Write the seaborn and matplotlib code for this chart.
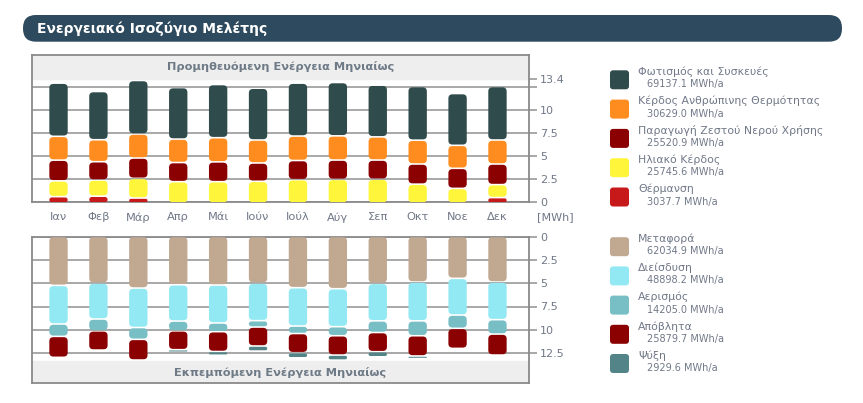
import numpy as np
import matplotlib
matplotlib.use('Agg')
import matplotlib.pyplot as plt
import seaborn as sns
from matplotlib.patches import FancyBboxPatch

sns.set_theme(style='white')
plt.rcParams['font.family'] = ['DejaVu Sans']

W, H = 863, 403

months = ['Ιαν', 'Φεβ', 'Μάρ', 'Απρ', 'Μάι', 'Ιούν', 'Ιούλ', 'Αύγ', 'Σεπ', 'Οκτ', 'Νοε', 'Δεκ']

# supplied energy (stack order bottom -> top)
heating = [0.70, 0.75, 0.55, 0, 0, 0, 0, 0, 0, 0, 0, 0.60]
solar = [1.72, 1.76, 2.14, 2.33, 2.33, 2.37, 2.55, 2.58, 2.60, 2.06, 1.60, 1.41]
hot_water = [2.25, 1.99, 2.21, 2.08, 2.15, 1.99, 2.08, 2.10, 2.08, 2.19, 2.18, 2.24]
human = [2.59, 2.39, 2.61, 2.55, 2.63, 2.50, 2.66, 2.63, 2.52, 2.59, 2.50, 2.61]
lighting = [5.78, 5.24, 5.82, 5.60, 5.78, 5.63, 5.75, 5.80, 5.62, 5.83, 5.63, 5.81]

# emitted energy (stack order top -> down, axis inverted)
transport = [5.30, 5.05, 5.59, 5.23, 5.26, 5.05, 5.55, 5.66, 5.08, 4.94, 4.54, 4.94]
infiltration = [4.18, 3.89, 4.27, 3.93, 4.11, 4.07, 4.15, 4.11, 4.06, 4.20, 3.97, 4.07]
ventilation = [1.34, 1.28, 1.28, 1.06, 0.94, 0.69, 0.81, 0.98, 1.26, 1.61, 1.44, 1.56]
waste = [2.27, 2.08, 2.24, 2.04, 2.15, 2.05, 2.08, 2.09, 2.08, 2.19, 2.17, 2.27]
cooling = [0, 0, 0, 0.2, 0.4, 0.55, 0.55, 0.55, 0.55, 0.2, 0, 0]

top_series = [heating, solar, hot_water, human, lighting]
top_colors = ['#C8191A', '#FFF53A', '#8B0000', '#FF8C1E', '#2F4B4B']
bot_series = [transport, infiltration, ventilation, waste, cooling]
bot_colors = ['#C0A891', '#93E9F3', '#78BEC5', '#8B0000', '#538588']

# legend entries (top-down as shown)
top_names = ['Φωτισμός και Συσκευές', 'Κέρδος Ανθρώπινης Θερμότητας',
             'Παραγωγή Ζεστού Νερού Χρήσης', 'Ηλιακό Κέρδος', 'Θέρμανση']
top_totals = ['69137.1 MWh/a', '30629.0 MWh/a', '25520.9 MWh/a', '25745.6 MWh/a', '3037.7 MWh/a']
top_leg_colors = ['#2F4B4B', '#FF8C1E', '#8B0000', '#FFF53A', '#C8191A']
bot_names = ['Μεταφορά', 'Διείσδυση', 'Αερισμός', 'Απόβλητα', 'Ψύξη']
bot_totals = ['62034.9 MWh/a', '48898.2 MWh/a', '14205.0 MWh/a', '25879.7 MWh/a', '2929.6 MWh/a']

TXT = '#707888'
GRID = '#9A9A9A'
FRAME = '#8A8A8A'


def px_rect(l, t, r, b):
    return [l / W, 1 - b / H, (r - l) / W, (b - t) / H]


def round_bars(ax, bars, px_x, px_y, radius=4.0, gap=1.6):
    # swap plain bars for rounded boxes, leaving a small white gap at the far end
    aspect = px_x / px_y
    for rect in bars:
        x, y = rect.get_x(), rect.get_y()
        w, h = rect.get_width(), rect.get_height()
        rect.set_visible(False)
        if h <= 0:
            continue
        g = min(gap / px_y, h * 0.45)
        hh = h - g
        r = min(radius / px_x, w / 2, hh / aspect / 2)
        ax.add_patch(FancyBboxPatch((x, y), w, hh,
                                    boxstyle=f'round,pad=0,rounding_size={r}',
                                    mutation_aspect=aspect, fc=rect.get_facecolor(),
                                    ec='none', zorder=3))


fig = plt.figure(figsize=(W / 100, H / 100), dpi=100)

# background overlay in pixel coords: title bar + legends
bg = fig.add_axes([0, 0, 1, 1])
bg.set_xlim(0, W)
bg.set_ylim(H, 0)
bg.axis('off')
bg.add_patch(FancyBboxPatch((23, 15), 819, 26.7, boxstyle='round,pad=0,rounding_size=13',
                            fc='#2E4A5E', ec='none'))
bg.text(37, 28.5, 'Ενεργειακό Ισοζύγιο Μελέτης', color='white', fontsize=10,
        fontweight='bold', va='center', ha='left')


def draw_legend(names, totals, colors, y0, step=29.3):
    for i, (n, t, c) in enumerate(zip(names, totals, colors)):
        cy = y0 + i * step
        bg.add_patch(FancyBboxPatch((610, cy - 9.5), 19, 19,
                                    boxstyle='round,pad=0,rounding_size=3', fc=c, ec='none'))
        bg.text(638, cy - 8, n, color=TXT, fontsize=7.8, va='center', ha='left')
        bg.text(647, cy + 4.5, t, color=TXT, fontsize=7.0, va='center', ha='left')


draw_legend(top_names, top_totals, top_leg_colors, 79.8)
draw_legend(bot_names, bot_totals, bot_colors, 246.7, 29.2)

x = np.arange(len(months))
bw = 0.46

# ---- top chart: supplied energy
ax1 = fig.add_axes(px_rect(31.5, 55.5, 529, 202.3))
px_x1 = (497.5 - 58.5) / 11
px_y1 = 9.2
bottom = np.zeros(len(months))
for vals, col in zip(top_series, top_colors):
    bars = ax1.bar(x, vals, bw, bottom=bottom, color=col)
    round_bars(ax1, bars, px_x1, px_y1)
    bottom += np.array(vals)
ax1.set_xlim(-0.677, 11.79)
ax1.set_ylim(0, (202.3 - 55.5) / px_y1)
ax1.axhspan(13.4, 20, color='#EEEEEE', zorder=2)
ax1.text(0.5, (13.4 + ax1.get_ylim()[1]) / 2 + 0.1, 'Προμηθευόμενη Ενέργεια Μηνιαίως',
         transform=ax1.get_yaxis_transform(), ha='center', va='center',
         fontsize=8.2, fontweight='bold', color='#6E7A86', zorder=4)
ax1.set_yticks([0, 2.5, 5, 7.5, 10, 12.5, 13.4])
ax1.set_yticklabels(['0', '2.5', '5', '7.5', '10', '', '13.4'])
ax1.set_xticks(x)
ax1.set_xticklabels(months)
ax1.tick_params(axis='x', length=0, pad=7, labelsize=8.2, labelcolor=TXT)

# ---- bottom chart: emitted energy
ax2 = fig.add_axes(px_rect(31.5, 237.2, 529, 383.3))
px_y2 = 9.24
bottom = np.zeros(len(months))
for vals, col in zip(bot_series, bot_colors):
    bars = ax2.bar(x, vals, bw, bottom=bottom, color=col)
    round_bars(ax2, bars, px_x1, px_y2)
    bottom += np.array(vals)
ax2.set_xlim(-0.677, 11.79)
ax2.set_ylim((383.3 - 237.2) / px_y2, 0)
ax2.axhspan(13.4, 20, color='#EEEEEE', zorder=2)
ax2.text(0.5, (13.4 + ax2.get_ylim()[0]) / 2, 'Εκπεμπόμενη Ενέργεια Μηνιαίως',
         transform=ax2.get_yaxis_transform(), ha='center', va='center',
         fontsize=8.2, fontweight='bold', color='#6E7A86', zorder=4)
ax2.set_yticks([0, 2.5, 5, 7.5, 10, 12.5])
ax2.set_yticklabels(['0', '2.5', '5', '7.5', '10', '12.5'])
ax2.set_xticks([])

for ax in (ax1, ax2):
    ax.set_facecolor('white')
    ax.set_axisbelow(True)
    ax.yaxis.grid(True, color=GRID, lw=1.2)
    ax.xaxis.grid(False)
    ax.yaxis.tick_right()
    ax.tick_params(axis='y', direction='out', length=6, width=1.2, color=GRID,
                   pad=2, labelsize=8, labelcolor=TXT)
    for s in ax.spines.values():
        s.set_visible(True)
        s.set_color(FRAME)
        s.set_linewidth(1.3)

fig.text(537 / W, 1 - 217 / H, '[MWh]', fontsize=8, color=TXT, va='center', ha='left')

fig.savefig('out.png', dpi=100)
